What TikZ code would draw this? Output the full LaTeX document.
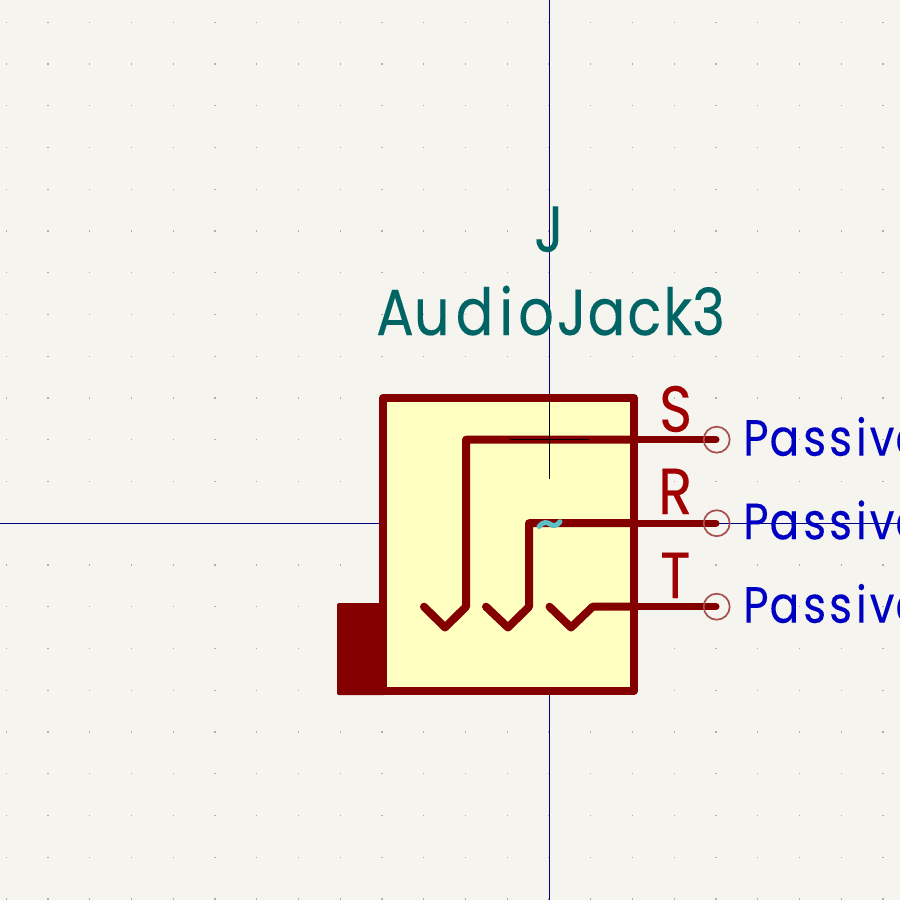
\documentclass[tikz,border=0pt]{standalone}
\usepackage{fontspec}
\setmainfont{Poppins}[FakeStretch=0.86,FakeBold=0.15]
\definecolor{bgc}{HTML}{F5F4EF}
\definecolor{gridc}{HTML}{B0B0AB}
\definecolor{bodyc}{HTML}{840000}
\definecolor{fillc}{HTML}{FFFFC2}
\definecolor{pinc}{HTML}{A85050}
\definecolor{namec}{HTML}{A00000}
\definecolor{refc}{HTML}{006464}
\definecolor{typec}{HTML}{0000C2}
\definecolor{axisc}{HTML}{000080}
\definecolor{tildec}{HTML}{5BBFC4}
\tikzset{
  sym/.style={draw=bodyc,line width=8pt,line join=round,line cap=round},
  pinwire/.style={draw=bodyc,line width=7pt,line cap=round,line join=round},
  pinring/.style={draw=pinc,line width=1.7pt},
  axis/.style={draw=axisc,line width=1pt},
  anchorcross/.style={draw=black,line width=1pt},
  reftext/.style={text=refc,inner sep=0pt,anchor=base west,font=\fontsize{65}{65}\selectfont},
  pintext/.style={text=namec,inner sep=0pt,anchor=base west,font=\fontsize{65}{65}\selectfont},
  typetext/.style={text=typec,inner sep=0pt,anchor=base west,font=\fontsize{51}{51}\selectfont},
}
\newcommand{\passiveword}{P\kern1pt a\kern4pt s\kern3pt s\kern4pt i\kern3pt v\kern1pt e}
\begin{document}
\begin{tikzpicture}[x=1pt,y=-1pt]
\useasboundingbox (0,0) rectangle (900,900);
\clip (0,0) rectangle (900,900);
\fill[bgc] (0,0) rectangle (900,900);
% grid dots
\foreach \i in {-13,...,8}{
  \foreach \j in {-12,...,9}{
    \fill[gridc] ({549+\i*41.75-0.6},{523.2+\j*41.75-0.6}) rectangle ++(1.2,1.2);
  }
}
% axes
\draw[axis] (549,0) -- (549,900);
\draw[axis] (0,523.2) -- (900,523.2);
% body
\fill[bodyc,rounded corners=1.5pt] (337,603) rectangle (386,695);
\draw[sym,fill=fillc] (383,398) rectangle (634,691);
% pins
\coordinate (pS) at (716,439.7);
\coordinate (pR) at (716,523.2);
\coordinate (pT) at (716,606.7);
\draw[sym] (634,439.7) -- (466,439.7) -- (466,606.7) -- (445,627.5) -- (424,606.7);
\draw[sym] (634,523.2) -- (529,523.2) -- (529,606.7) -- (508,627.5) -- (486,606.7);
\draw[sym] (634,606.7) -- (592.7,606.7) -- (571,627.5) -- (549.5,606.7);
\draw[pinwire] (634,439.7) -- (pS);
\draw[pinwire] (634,523.2) -- (pR);
\draw[pinwire] (634,606.7) -- (pT);
\draw[pinring] (716.7,439.7) circle (13);
\draw[pinring] (716.7,523.2) circle (13);
\draw[pinring] (716.7,606.7) circle (13);
% anchor cross
\draw[anchorcross] (549,400) -- (549,479.4);
\draw[anchorcross] (509.5,439.7) -- (589,439.7);
% tilde
\draw[draw=tildec,line width=5pt,line cap=round] (539,526.5) .. controls (543,521.5) and (547,522) .. (550,524) .. controls (553,526.5) and (557,526) .. (560,521.7);
% texts
\node[reftext] (ref) at (534,251.7) {J};
\node[reftext] (val) at (376,335) {A\kern0pt u\kern6pt d\kern6pt i\kern5pt o\kern3pt J\kern1pt a\kern2pt c\kern2pt k\kern0pt 3};
\node[pintext] (nS) at (659,431.7) {S};
\node[pintext] (nR) at (658,514) {R};
\node[pintext] (nT) at (660,598) {T};
\node[typetext] (tS) at (743,455.7) {\passiveword};
\node[typetext] (tR) at (743,539.2) {\passiveword};
\node[typetext] (tT) at (743,622.7) {\passiveword};
\end{tikzpicture}
\end{document}
